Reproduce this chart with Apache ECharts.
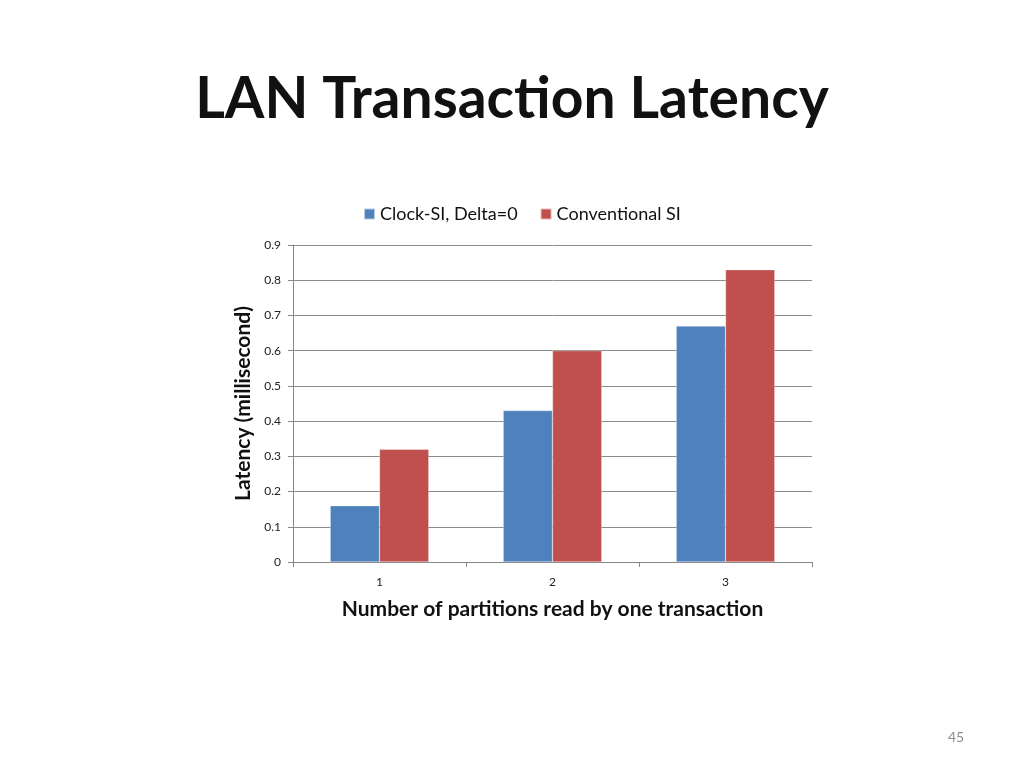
<!DOCTYPE html>
<html>
<head>
<meta charset="utf-8">
<script src="https://cdn.jsdelivr.net/npm/echarts@6/dist/echarts.min.js"></script>
<style>
  html, body { margin: 0; padding: 0; background: #fff; }
  #main { width: 1024px; height: 768px; }
</style>
</head>
<body>
<div id="main"></div>
<script>
var categories = ['1', '2', '3'];
var clockSI = [0.16, 0.43, 0.67];
var conventionalSI = [0.32, 0.60, 0.83];
var seriesNames = ['Clock-SI, Delta=0', 'Conventional SI'];

var chart = echarts.init(document.getElementById('main'));
var font = 'Lato, "Open Sans", sans-serif';

var option = {
  backgroundColor: '#fff',
  color: ['#4F81BD', '#C0504D'],
  textStyle: { fontFamily: font },
  title: [
    {
      text: 'LAN Transaction Latency',
      left: 'center',
      top: 66,
      textStyle: { fontFamily: font, fontSize: 57, fontWeight: 'bold', color: '#111' }
    },
    {
      text: '45',
      left: 943,
      top: 725,
      textStyle: { fontFamily: font, fontSize: 14, fontWeight: 'normal', color: '#8c8c8c' }
    }
  ],
  legend: {
    data: seriesNames,
    top: 200,
    left: 358,
    itemWidth: 11,
    itemHeight: 11,
    itemGap: 22,
    icon: 'rect',
    textStyle: { fontFamily: font, fontSize: 18, color: '#111' }
  },
  grid: { left: 293, right: 212, top: 245, bottom: 206 },
  xAxis: {
    type: 'category',
    data: categories,
    name: 'Number of partitions read by one transaction',
    nameLocation: 'middle',
    nameGap: 37,
    nameTextStyle: { fontFamily: font, fontSize: 21, fontWeight: 'bold', color: '#111' },
    axisLine: { lineStyle: { color: '#868686' } },
    axisTick: { show: true, alignWithLabel: false, length: 5, lineStyle: { color: '#868686' } },
    axisLabel: { fontSize: 12, color: '#222', margin: 14 }
  },
  yAxis: {
    type: 'value',
    min: 0,
    max: 0.9,
    interval: 0.1,
    name: 'Latency (millisecond)',
    nameLocation: 'middle',
    nameGap: 36,
    nameTextStyle: { fontFamily: font, fontSize: 21, fontWeight: 'bold', color: '#111' },
    axisLine: { show: true, lineStyle: { color: '#868686' } },
    axisTick: { show: true, length: 5, lineStyle: { color: '#868686' } },
    axisLabel: {
      fontSize: 12, color: '#222', margin: 12,
      formatter: function (v) { return v === 0 ? '0' : String(Math.round(v * 10) / 10); }
    },
    splitLine: { lineStyle: { color: '#8c8c8c', width: 1 } }
  },
  series: [
    {
      name: seriesNames[0],
      type: 'bar',
      data: clockSI,
      barGap: '0%',
      barCategoryGap: '43%',
      itemStyle: { borderColor: 'rgba(255,255,255,0.6)', borderWidth: 0.5 }
    },
    {
      name: seriesNames[1],
      type: 'bar',
      data: conventionalSI,
      barGap: '0%',
      barCategoryGap: '43%',
      itemStyle: { borderColor: 'rgba(255,255,255,0.6)', borderWidth: 0.5 }
    }
  ]
};

chart.setOption(option);
</script>
</body>
</html>
